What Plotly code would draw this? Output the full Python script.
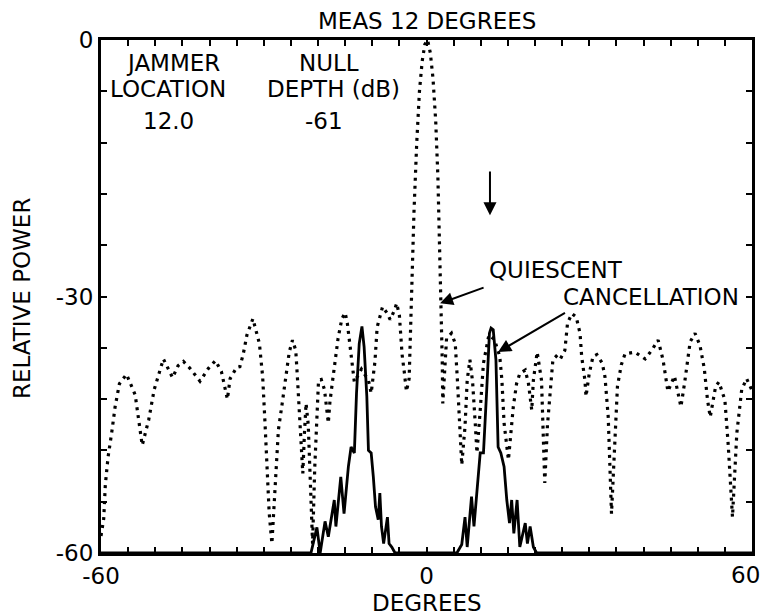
import plotly.graph_objects as go

# Quiescent pattern (dotted)
quiescent_deg = [-60, -59.5, -59.2, -58.7, -58.0, -57.4, -56.6, -55.3, -53.7, -53.0, -52.4, -51.2, -50.2,
                 -48.5, -47.6, -46.8, -45.8, -44.8, -43.6, -41.75, -40.2, -38.9, -37.8, -36.7, -36.2, -35.0,
                 -34.4, -33.8, -33.1, -32.0, -30.8, -30.2, -29.8, -29.5, -29.0, -28.5, -27.9, -27.3, -26.6,
                 -25.8, -25.3, -24.7, -24.1, -23.8, -23.5, -23.3, -23.0, -22.8, -22.5, -22.2, -21.8, -21.5,
                 -21.2, -21.0, -20.6, -20.2, -19.9, -19.4, -18.8, -18.1, -17.8, -17.3, -16.6, -16.3, -15.6,
                 -15.0, -14.6, -14.2, -13.7, -13.3, -12.0, -10.7, -10.2, -9.5, -9.1, -8.6, -8.1, -7.2, -6.7,
                 -5.9, -5.5, -5.0, -4.5, -4.1, -3.7, -3.2, -2.9, -2.7, -2.3, -1.8, -1.3, -0.8, -0.3, 0.2, 0.7,
                 1.2, 1.7, 2.1, 2.4, 2.6, 2.8, 2.9, 3.0, 3.7, 4.6, 5.3, 5.7, 6.0, 6.5, 7.1, 7.5, 8.0, 8.5, 9.0,
                 9.3, 9.9, 10.5, 11.5, 12.5, 13.5, 13.9, 14.3, 15.1, 16.0, 16.6, 17.2, 18.2, 18.8, 19.4, 19.7,
                 20.4, 21.2, 21.5, 21.8, 22.3, 22.6, 23.1, 23.3, 23.9, 24.6, 25.5, 26.0, 26.8, 27.6, 28.3,
                 28.6, 29.2, 29.4, 30.0, 30.7, 31.4, 32.4, 32.9, 33.5, 34.1, 34.7, 35.2, 35.9, 36.6, 38.4,
                 40.3, 41.5, 42.7, 43.6, 44.5, 45.7, 46.9, 47.6, 48.6, 49.5, 50.4, 51.2, 51.8, 52.3, 53.3,
                 53.9, 55.0, 55.6, 56.4, 57.2, 58.1, 59.0, 60.0]
quiescent_db = [-58, -56, -52, -48.8, -45.8, -42.9, -40.2, -39.1, -41.5, -44.8, -47.4, -44.4, -40.9,
                -37.3, -38.4, -39.5, -38.1, -37.6, -38.4, -39.9, -38.4, -37.5, -38.8, -42.0, -39.6, -38.3,
                -38.2, -36.8, -34.5, -32.6, -35.5, -39.4, -44.4, -49.1, -55.3, -58.9, -52.2, -45.6, -42.5,
                -39.0, -36.5, -35.1, -36.3, -39.4, -42.9, -45.2, -48.3, -50.7, -46.0, -42.5, -45.0, -50.0,
                -55.0, -58.9, -50.0, -42.9, -39.8, -39.7, -40.9, -44.8, -42.3, -39.8, -36.3, -34.9, -32.6,
                -31.9, -33.1, -35.3, -38.6, -40.0, -38.5, -39.8, -41.3, -37.6, -33.6, -32.2, -31.2, -32.0, -32.7,
                -31.6, -30.8, -32.2, -36.8, -38.8, -41.1, -39.6, -32.4, -28.5, -20, -12, -6, -2.5, -0.5, 0, -1.5,
                -4.5, -9.5, -16, -23, -30, -33.3, -37.4, -42.5, -34.9, -34.3, -35.5, -39.8, -43.5, -49.7, -45.2,
                -39.8, -37.4, -40.0, -45.0,
                -48.3, -43.3, -37.8, -34.5, -35.0, -37.0, -39.8, -44.8, -49.1, -42.9, -40.2, -39.0, -38.6,
                -40.2, -43.3, -39.8,
                -36.5, -39.8, -45.0, -51.8, -45.0, -42.9, -39.8, -37.4, -37.0, -37.4, -36.3, -33.1, -32.0,
                -32.4, -34.3,
                -37.0, -39.8, -41.7, -39.0, -37.0, -36.8, -37.8, -39.4, -44.1, -55.4, -47.2, -40.5, -38.0,
                -36.7, -36.5,
                -37.3, -36.3, -35.1, -37.4, -41.1, -39.3, -42.9, -40.0, -35.3, -34.3, -35.7, -38.4, -42.1,
                -44.1, -40.5,
                -40.0, -42.1, -47.2, -55.8, -46.0, -40.9, -39.6, -41.0]

# Cancellation pattern (solid)
cancel_deg = [-60, -21.3, -20.2, -19.6, -18.7, -18.1, -17.0, -16.7, -15.8, -15.2, -14.4, -13.9, -13.3,
              -12.9, -12.4, -11.9, -11.5, -11.0, -10.7, -10.2, -9.8, -9.4, -8.9, -8.6, -8.3, -7.9, -7.2,
              -6.9, -6.4, -5.8, 5.6, 6.5, 7.1, 7.5, 8.3, 8.75, 9.9, 10.5, 11.1, 11.6, 11.9, 12.3, 12.8,
              13.2, 13.7, 14.3, 14.8, 15.3, 15.7, 16.1, 16.7, 17.2, 18.2, 18.6, 19.1, 19.7, 20.3, 60]
cancel_db = [-60, -60, -57, -60, -56.3, -58.1, -53.8, -56.9, -51.1, -55.4, -49.9, -47.6, -48.3,
             -41.3, -35.5, -33.5, -35.9, -41.7, -48.0, -48.3, -51.1, -54.6, -56.1, -53.0, -56.9, -58.9, -55.8,
             -58.9, -59.3, -60, -60, -59, -55.8, -59.3, -53.4, -56.9, -48.3, -48.3, -40.9, -34.3, -33.7, -33.9,
             -37.4, -47.6, -48.3, -49.9, -53.8, -56.5, -53.8, -57.7, -53.8, -59.3, -56.5, -58.9, -56.9,
             -59.3, -60, -60]

x_tick_vals = list(range(-60, 61, 5))
x_tick_text = ["-60" if v == -60 else "0" if v == 0 else "" for v in x_tick_vals]
x_end_label = "60"
y_tick_vals = list(range(-60, 1, 6))
y_tick_text = ["-60" if v == -60 else "-30" if v == -30 else "0" if v == 0 else "" for v in y_tick_vals]

FONT = "DejaVu Sans"
FS = 23

fig = go.Figure()
fig.add_trace(go.Scatter(x=quiescent_deg, y=quiescent_db, mode="lines",
                         line=dict(color="black", width=3.2, dash="3px,5px"), showlegend=False))
fig.add_trace(go.Scatter(x=cancel_deg, y=cancel_db, mode="lines",
                         line=dict(color="black", width=2.8), showlegend=False))

annotations = []
def txt(x, y, s):
    annotations.append(dict(x=x, y=y, xref="x", yref="y", text=s, showarrow=False,
                            font=dict(family=FONT, size=FS, color="black")))

txt(-46.8, -2.7, "JAMMER")
txt(-47.7, -5.7, "LOCATION")
txt(-47.5, -9.5, "12.0")
txt(-18.0, -2.7, "NULL")
txt(-17.2, -5.7, "DEPTH (dB)")
txt(-18.9, -9.5, "-61")
txt(23.9, -26.9, "QUIESCENT")
txt(41.4, -30.06, "CANCELLATION")

def arrow(x0, y0, x1, y1):
    annotations.append(dict(x=x1, y=y1, ax=x0, ay=y0, xref="x", yref="y", axref="x", ayref="y",
                            text="", showarrow=True, arrowhead=2, arrowsize=1.3, arrowwidth=2,
                            arrowcolor="black"))

arrow(11.7, -15.2, 11.7, -20.5)
arrow(10.8, -28.9, 2.5, -30.8)
arrow(25.8, -31.8, 13.2, -36.5)

# right-end x tick label kept inside the page
annotations.append(dict(x=1 + 10 / 651, y=-22 / 513, xref="paper", yref="paper", text=x_end_label,
                        showarrow=False, xanchor="right", yanchor="middle",
                        font=dict(family=FONT, size=FS, color="black")))
# axis titles as annotations for precise placement
annotations.append(dict(x=-79 / 651, y=0.495, xref="paper", yref="paper", text="RELATIVE POWER",
                        textangle=-90, showarrow=False, xanchor="center", yanchor="middle",
                        font=dict(family=FONT, size=FS, color="black")))
annotations.append(dict(x=0.5, y=-50 / 513, xref="paper", yref="paper", text="DEGREES",
                        showarrow=False, xanchor="center", yanchor="middle",
                        font=dict(family=FONT, size=FS, color="black")))
annotations.append(dict(x=0.5, y=1 + 19 / 513, xref="paper", yref="paper", text="MEAS 12 DEGREES",
                        showarrow=False, xanchor="center", yanchor="middle",
                        font=dict(family=FONT, size=FS, color="black")))

fig.update_layout(
    width=764, height=615,
    margin=dict(l=101, r=12, t=40, b=62, autoexpand=False),
    paper_bgcolor="white", plot_bgcolor="white",
    font=dict(family=FONT, size=FS, color="black"),
    annotations=annotations,
    xaxis=dict(range=[-60, 60], tickvals=x_tick_vals, ticktext=x_tick_text, ticks="inside",
               ticklen=6, tickwidth=2, tickcolor="black", showline=True, linecolor="black",
               linewidth=3, mirror="allticks", showgrid=False, zeroline=False, automargin=False,
               ticklabeloverflow="allow", tickfont=dict(family=FONT, size=FS)),
    yaxis=dict(range=[-60, 0], tickvals=y_tick_vals, ticktext=y_tick_text, ticks="inside",
               ticklen=6, tickwidth=2, tickcolor="black", showline=True, linecolor="black",
               linewidth=3, mirror="allticks", showgrid=False, zeroline=False, automargin=False,
               ticklabeloverflow="allow", tickfont=dict(family=FONT, size=FS)),
)

fig.write_html("out.html")
